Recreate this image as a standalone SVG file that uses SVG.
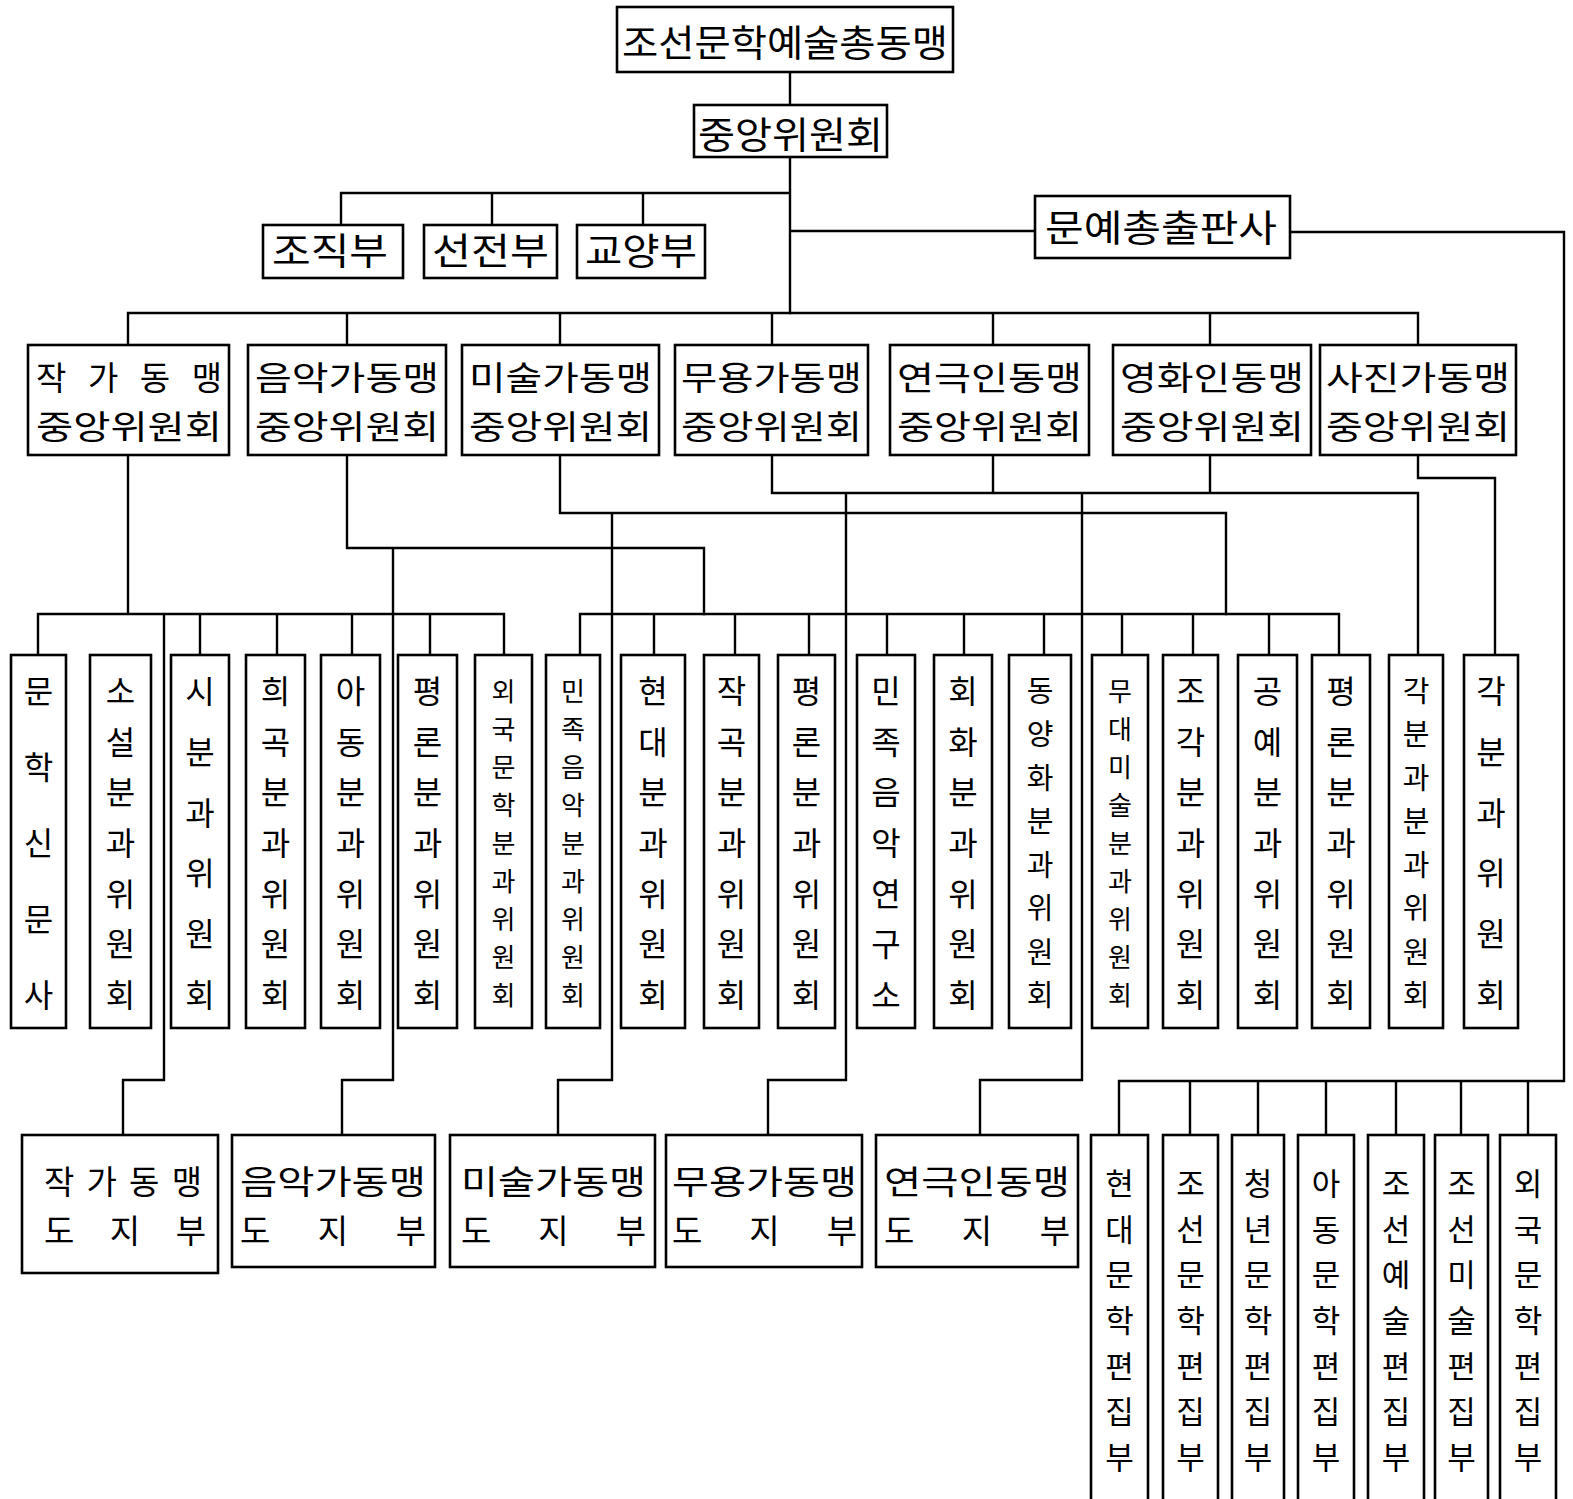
<svg xmlns="http://www.w3.org/2000/svg" width="1573" height="1499" viewBox="0 0 1573 1499">
<style>
.b{fill:#fff;stroke:#000;stroke-width:2.6}
.t{font-family:"Noto Sans CJK KR","Noto Sans",sans-serif;fill:#000;font-size:37px}
.t2{font-size:33px}
.v{font-family:"Noto Sans CJK KR","Noto Sans",sans-serif;fill:#000;font-size:32px;text-anchor:middle}
.v8{font-size:29px}
.v9{font-size:26px}
.e{font-size:31px}
.c{fill:none;stroke:#000;stroke-width:2.4;stroke-linejoin:miter;stroke-linecap:square}
</style>
<rect width="1573" height="1499" fill="#fff"/>
<g id="connectors" class="c">
<path d="M790 72V105M790 157V313M341 193H790M341 193V225M492 193V225M643 193V225M790 231H1035"/>
<path d="M1290 232H1564V1081H1119M1119 1081V1135M1190 1081V1135M1258 1081V1135M1326 1081V1135M1396 1081V1135M1461 1081V1135M1528 1081V1135"/>
<path d="M128 313H1418M128 313V345M347 313V345M560 313V345M772 313V345M993 313V345M1210 313V345M1418 313V345"/>
<path d="M128 455V614M38 614H504M38 614V655M200 614V655M277 614V655M352 614V655M430 614V655M504 614V655M164 614V1080H123V1135"/>
<path d="M347 455V548H704V614M393 548V1080H342V1135"/>
<path d="M560 455V513H1226V614M612 513V1080H558V1135"/>
<path d="M580 614H1339M580 614V655M654 614V655M735 614V655M809 614V655M887 614V655M964 614V655M1044 614V655M1122 614V655M1193 614V655M1269 614V655M1339 614V655"/>
<path d="M772 455V493H1418V655M993 455V493M1210 455V493M846 493V1080H768V1135M1082 493V1080H980V1135"/>
<path d="M1418 455V478H1495V655"/>
</g>
<g id="n-top"><rect class="b" x="617" y="7" width="336" height="65"/><text class="t" x="622" y="57" font-size="38" textLength="326" lengthAdjust="spacingAndGlyphs">조선문학예술총동맹</text></g>
<g id="n-central"><rect class="b" x="694" y="105" width="193" height="52"/><text class="t" x="698" y="149" textLength="185" lengthAdjust="spacingAndGlyphs">중앙위원회</text></g>
<g id="n-org"><rect class="b" x="263" y="225" width="140" height="53"/><text class="t" x="272" y="265" textLength="116" lengthAdjust="spacingAndGlyphs">조직부</text></g>
<g id="n-prop"><rect class="b" x="424" y="225" width="133" height="53"/><text class="t" x="432" y="265" textLength="117" lengthAdjust="spacingAndGlyphs">선전부</text></g>
<g id="n-edu"><rect class="b" x="577" y="225" width="128" height="53"/><text class="t" x="585" y="265" textLength="112" lengthAdjust="spacingAndGlyphs">교양부</text></g>
<g id="n-pub"><rect class="b" x="1035" y="196" width="255" height="62"/><text class="t" x="1045" y="242" textLength="232" lengthAdjust="spacingAndGlyphs">문예총출판사</text></g>

<g id="n-writers"><rect class="b" x="28" y="345" width="201" height="110"/><text class="t t2" x="36" y="390" textLength="186" lengthAdjust="spacing">작가동맹</text><text class="t t2" x="36" y="439" textLength="186" lengthAdjust="spacingAndGlyphs">중앙위원회</text></g>
<g id="n-music"><rect class="b" x="248" y="345" width="198" height="110"/><text class="t t2" x="255" y="390" textLength="184" lengthAdjust="spacingAndGlyphs">음악가동맹</text><text class="t t2" x="255" y="439" textLength="184" lengthAdjust="spacingAndGlyphs">중앙위원회</text></g>
<g id="n-art"><rect class="b" x="462" y="345" width="197" height="110"/><text class="t t2" x="469" y="390" textLength="183" lengthAdjust="spacingAndGlyphs">미술가동맹</text><text class="t t2" x="469" y="439" textLength="183" lengthAdjust="spacingAndGlyphs">중앙위원회</text></g>
<g id="n-dance"><rect class="b" x="675" y="345" width="193" height="110"/><text class="t t2" x="681" y="390" textLength="181" lengthAdjust="spacingAndGlyphs">무용가동맹</text><text class="t t2" x="681" y="439" textLength="181" lengthAdjust="spacingAndGlyphs">중앙위원회</text></g>
<g id="n-theatre"><rect class="b" x="890" y="345" width="199" height="110"/><text class="t t2" x="897" y="390" textLength="185" lengthAdjust="spacingAndGlyphs">연극인동맹</text><text class="t t2" x="897" y="439" textLength="185" lengthAdjust="spacingAndGlyphs">중앙위원회</text></g>
<g id="n-film"><rect class="b" x="1113" y="345" width="198" height="110"/><text class="t t2" x="1120" y="390" textLength="184" lengthAdjust="spacingAndGlyphs">영화인동맹</text><text class="t t2" x="1120" y="439" textLength="184" lengthAdjust="spacingAndGlyphs">중앙위원회</text></g>
<g id="n-photo"><rect class="b" x="1320" y="345" width="196" height="110"/><text class="t t2" x="1326" y="390" textLength="184" lengthAdjust="spacingAndGlyphs">사진가동맹</text><text class="t t2" x="1326" y="439" textLength="184" lengthAdjust="spacingAndGlyphs">중앙위원회</text></g>

<g id="s-munhak"><rect class="b" x="11" y="655" width="55" height="373"/><text class="v"><tspan x="38.5" y="703">문</tspan><tspan x="38.5" y="779">학</tspan><tspan x="38.5" y="855">신</tspan><tspan x="38.5" y="931">문</tspan><tspan x="38.5" y="1007">사</tspan></text></g>
<g id="s-soseol"><rect class="b" x="90" y="655" width="61" height="373"/><text class="v"><tspan x="120.5" y="703">소</tspan><tspan x="120.5" y="754">설</tspan><tspan x="120.5" y="804">분</tspan><tspan x="120.5" y="855">과</tspan><tspan x="120.5" y="906">위</tspan><tspan x="120.5" y="956">원</tspan><tspan x="120.5" y="1007">회</tspan></text></g>
<g id="s-si"><rect class="b" x="171" y="655" width="58" height="373"/><text class="v"><tspan x="200" y="703">시</tspan><tspan x="200" y="764">분</tspan><tspan x="200" y="825">과</tspan><tspan x="200" y="885">위</tspan><tspan x="200" y="946">원</tspan><tspan x="200" y="1007">회</tspan></text></g>
<g id="s-huigok"><rect class="b" x="246" y="655" width="59" height="373"/><text class="v"><tspan x="275.5" y="703">희</tspan><tspan x="275.5" y="754">곡</tspan><tspan x="275.5" y="804">분</tspan><tspan x="275.5" y="855">과</tspan><tspan x="275.5" y="906">위</tspan><tspan x="275.5" y="956">원</tspan><tspan x="275.5" y="1007">회</tspan></text></g>
<g id="s-adong"><rect class="b" x="321" y="655" width="59" height="373"/><text class="v"><tspan x="350.5" y="703">아</tspan><tspan x="350.5" y="754">동</tspan><tspan x="350.5" y="804">분</tspan><tspan x="350.5" y="855">과</tspan><tspan x="350.5" y="906">위</tspan><tspan x="350.5" y="956">원</tspan><tspan x="350.5" y="1007">회</tspan></text></g>
<g id="s-pyeongron1"><rect class="b" x="398" y="655" width="59" height="373"/><text class="v"><tspan x="427.5" y="703">평</tspan><tspan x="427.5" y="754">론</tspan><tspan x="427.5" y="804">분</tspan><tspan x="427.5" y="855">과</tspan><tspan x="427.5" y="906">위</tspan><tspan x="427.5" y="956">원</tspan><tspan x="427.5" y="1007">회</tspan></text></g>
<g id="s-oeguk"><rect class="b" x="475" y="655" width="57" height="373"/><text class="v v9"><tspan x="503.5" y="701">외</tspan><tspan x="503.5" y="739">국</tspan><tspan x="503.5" y="777">문</tspan><tspan x="503.5" y="815">학</tspan><tspan x="503.5" y="853">분</tspan><tspan x="503.5" y="891">과</tspan><tspan x="503.5" y="929">위</tspan><tspan x="503.5" y="967">원</tspan><tspan x="503.5" y="1005">회</tspan></text></g>
<g id="s-minjok"><rect class="b" x="546" y="655" width="54" height="373"/><text class="v v9"><tspan x="573" y="701">민</tspan><tspan x="573" y="739">족</tspan><tspan x="573" y="777">음</tspan><tspan x="573" y="815">악</tspan><tspan x="573" y="853">분</tspan><tspan x="573" y="891">과</tspan><tspan x="573" y="929">위</tspan><tspan x="573" y="967">원</tspan><tspan x="573" y="1005">회</tspan></text></g>
<g id="s-hyeondae"><rect class="b" x="621" y="655" width="64" height="373"/><text class="v"><tspan x="653" y="703">현</tspan><tspan x="653" y="754">대</tspan><tspan x="653" y="804">분</tspan><tspan x="653" y="855">과</tspan><tspan x="653" y="906">위</tspan><tspan x="653" y="956">원</tspan><tspan x="653" y="1007">회</tspan></text></g>
<g id="s-jakgok"><rect class="b" x="704" y="655" width="55" height="373"/><text class="v"><tspan x="731.5" y="703">작</tspan><tspan x="731.5" y="754">곡</tspan><tspan x="731.5" y="804">분</tspan><tspan x="731.5" y="855">과</tspan><tspan x="731.5" y="906">위</tspan><tspan x="731.5" y="956">원</tspan><tspan x="731.5" y="1007">회</tspan></text></g>
<g id="s-pyeongron2"><rect class="b" x="778" y="655" width="57" height="373"/><text class="v"><tspan x="806.5" y="703">평</tspan><tspan x="806.5" y="754">론</tspan><tspan x="806.5" y="804">분</tspan><tspan x="806.5" y="855">과</tspan><tspan x="806.5" y="906">위</tspan><tspan x="806.5" y="956">원</tspan><tspan x="806.5" y="1007">회</tspan></text></g>
<g id="s-yeonguso"><rect class="b" x="857" y="655" width="58" height="373"/><text class="v"><tspan x="886" y="703">민</tspan><tspan x="886" y="754">족</tspan><tspan x="886" y="804">음</tspan><tspan x="886" y="855">악</tspan><tspan x="886" y="906">연</tspan><tspan x="886" y="956">구</tspan><tspan x="886" y="1007">소</tspan></text></g>
<g id="s-hoehwa"><rect class="b" x="934" y="655" width="58" height="373"/><text class="v"><tspan x="963" y="703">회</tspan><tspan x="963" y="754">화</tspan><tspan x="963" y="804">분</tspan><tspan x="963" y="855">과</tspan><tspan x="963" y="906">위</tspan><tspan x="963" y="956">원</tspan><tspan x="963" y="1007">회</tspan></text></g>
<g id="s-dongyang"><rect class="b" x="1009" y="655" width="62" height="373"/><text class="v v8"><tspan x="1040" y="702">동</tspan><tspan x="1040" y="745">양</tspan><tspan x="1040" y="789">화</tspan><tspan x="1040" y="832">분</tspan><tspan x="1040" y="876">과</tspan><tspan x="1040" y="919">위</tspan><tspan x="1040" y="963">원</tspan><tspan x="1040" y="1006">회</tspan></text></g>
<g id="s-mudae"><rect class="b" x="1092" y="655" width="56" height="373"/><text class="v v9"><tspan x="1120" y="701">무</tspan><tspan x="1120" y="739">대</tspan><tspan x="1120" y="777">미</tspan><tspan x="1120" y="815">술</tspan><tspan x="1120" y="853">분</tspan><tspan x="1120" y="891">과</tspan><tspan x="1120" y="929">위</tspan><tspan x="1120" y="967">원</tspan><tspan x="1120" y="1005">회</tspan></text></g>
<g id="s-jogak"><rect class="b" x="1163" y="655" width="55" height="373"/><text class="v"><tspan x="1190.5" y="703">조</tspan><tspan x="1190.5" y="754">각</tspan><tspan x="1190.5" y="804">분</tspan><tspan x="1190.5" y="855">과</tspan><tspan x="1190.5" y="906">위</tspan><tspan x="1190.5" y="956">원</tspan><tspan x="1190.5" y="1007">회</tspan></text></g>
<g id="s-gongye"><rect class="b" x="1238" y="655" width="59" height="373"/><text class="v"><tspan x="1267.5" y="703">공</tspan><tspan x="1267.5" y="754">예</tspan><tspan x="1267.5" y="804">분</tspan><tspan x="1267.5" y="855">과</tspan><tspan x="1267.5" y="906">위</tspan><tspan x="1267.5" y="956">원</tspan><tspan x="1267.5" y="1007">회</tspan></text></g>
<g id="s-pyeongron3"><rect class="b" x="1312" y="655" width="58" height="373"/><text class="v"><tspan x="1341" y="703">평</tspan><tspan x="1341" y="754">론</tspan><tspan x="1341" y="804">분</tspan><tspan x="1341" y="855">과</tspan><tspan x="1341" y="906">위</tspan><tspan x="1341" y="956">원</tspan><tspan x="1341" y="1007">회</tspan></text></g>
<g id="s-gakbungwa2"><rect class="b" x="1389" y="655" width="54" height="373"/><text class="v v8"><tspan x="1416" y="702">각</tspan><tspan x="1416" y="745">분</tspan><tspan x="1416" y="789">과</tspan><tspan x="1416" y="832">분</tspan><tspan x="1416" y="876">과</tspan><tspan x="1416" y="919">위</tspan><tspan x="1416" y="963">원</tspan><tspan x="1416" y="1006">회</tspan></text></g>
<g id="s-gakbungwa"><rect class="b" x="1464" y="655" width="54" height="373"/><text class="v"><tspan x="1491" y="703">각</tspan><tspan x="1491" y="764">분</tspan><tspan x="1491" y="825">과</tspan><tspan x="1491" y="885">위</tspan><tspan x="1491" y="946">원</tspan><tspan x="1491" y="1007">회</tspan></text></g>

<g id="d-writers"><rect class="b" x="22" y="1135" width="196" height="138"/><text class="t t2" x="44" y="1194" textLength="158" lengthAdjust="spacing">작가동맹</text><text class="t t2" x="44" y="1243" textLength="162" lengthAdjust="spacing">도지부</text></g>
<g id="d-music"><rect class="b" x="232" y="1135" width="203" height="132"/><text class="t t2" x="240" y="1194" textLength="186" lengthAdjust="spacingAndGlyphs">음악가동맹</text><text class="t t2" x="240" y="1243" textLength="186" lengthAdjust="spacing">도지부</text></g>
<g id="d-art"><rect class="b" x="450" y="1135" width="205" height="132"/><text class="t t2" x="461" y="1194" textLength="185" lengthAdjust="spacingAndGlyphs">미술가동맹</text><text class="t t2" x="461" y="1243" textLength="185" lengthAdjust="spacing">도지부</text></g>
<g id="d-dance"><rect class="b" x="666" y="1135" width="196" height="132"/><text class="t t2" x="672" y="1194" textLength="185" lengthAdjust="spacingAndGlyphs">무용가동맹</text><text class="t t2" x="672" y="1243" textLength="185" lengthAdjust="spacing">도지부</text></g>
<g id="d-theatre"><rect class="b" x="876" y="1135" width="202" height="132"/><text class="t t2" x="884" y="1194" textLength="186" lengthAdjust="spacingAndGlyphs">연극인동맹</text><text class="t t2" x="884" y="1243" textLength="186" lengthAdjust="spacing">도지부</text></g>

<g id="e-hyeondae"><rect class="b" x="1091" y="1135" width="57" height="380"/><text class="v e"><tspan x="1119.5" y="1195">현</tspan><tspan x="1119.5" y="1241">대</tspan><tspan x="1119.5" y="1286">문</tspan><tspan x="1119.5" y="1332">학</tspan><tspan x="1119.5" y="1378">편</tspan><tspan x="1119.5" y="1423">집</tspan><tspan x="1119.5" y="1469">부</tspan></text></g>
<g id="e-joseonmunhak"><rect class="b" x="1163" y="1135" width="55" height="380"/><text class="v e"><tspan x="1190.5" y="1195">조</tspan><tspan x="1190.5" y="1241">선</tspan><tspan x="1190.5" y="1286">문</tspan><tspan x="1190.5" y="1332">학</tspan><tspan x="1190.5" y="1378">편</tspan><tspan x="1190.5" y="1423">집</tspan><tspan x="1190.5" y="1469">부</tspan></text></g>
<g id="e-cheongnyeon"><rect class="b" x="1232" y="1135" width="52" height="380"/><text class="v e"><tspan x="1258" y="1195">청</tspan><tspan x="1258" y="1241">년</tspan><tspan x="1258" y="1286">문</tspan><tspan x="1258" y="1332">학</tspan><tspan x="1258" y="1378">편</tspan><tspan x="1258" y="1423">집</tspan><tspan x="1258" y="1469">부</tspan></text></g>
<g id="e-adong"><rect class="b" x="1298" y="1135" width="56" height="380"/><text class="v e"><tspan x="1326" y="1195">아</tspan><tspan x="1326" y="1241">동</tspan><tspan x="1326" y="1286">문</tspan><tspan x="1326" y="1332">학</tspan><tspan x="1326" y="1378">편</tspan><tspan x="1326" y="1423">집</tspan><tspan x="1326" y="1469">부</tspan></text></g>
<g id="e-joseonyesul"><rect class="b" x="1368" y="1135" width="56" height="380"/><text class="v e"><tspan x="1396" y="1195">조</tspan><tspan x="1396" y="1241">선</tspan><tspan x="1396" y="1286">예</tspan><tspan x="1396" y="1332">술</tspan><tspan x="1396" y="1378">편</tspan><tspan x="1396" y="1423">집</tspan><tspan x="1396" y="1469">부</tspan></text></g>
<g id="e-joseonmisul"><rect class="b" x="1435" y="1135" width="53" height="380"/><text class="v e"><tspan x="1461.5" y="1195">조</tspan><tspan x="1461.5" y="1241">선</tspan><tspan x="1461.5" y="1286">미</tspan><tspan x="1461.5" y="1332">술</tspan><tspan x="1461.5" y="1378">편</tspan><tspan x="1461.5" y="1423">집</tspan><tspan x="1461.5" y="1469">부</tspan></text></g>
<g id="e-oeguk"><rect class="b" x="1500" y="1135" width="56" height="380"/><text class="v e"><tspan x="1528" y="1195">외</tspan><tspan x="1528" y="1241">국</tspan><tspan x="1528" y="1286">문</tspan><tspan x="1528" y="1332">학</tspan><tspan x="1528" y="1378">편</tspan><tspan x="1528" y="1423">집</tspan><tspan x="1528" y="1469">부</tspan></text></g>
</svg>
